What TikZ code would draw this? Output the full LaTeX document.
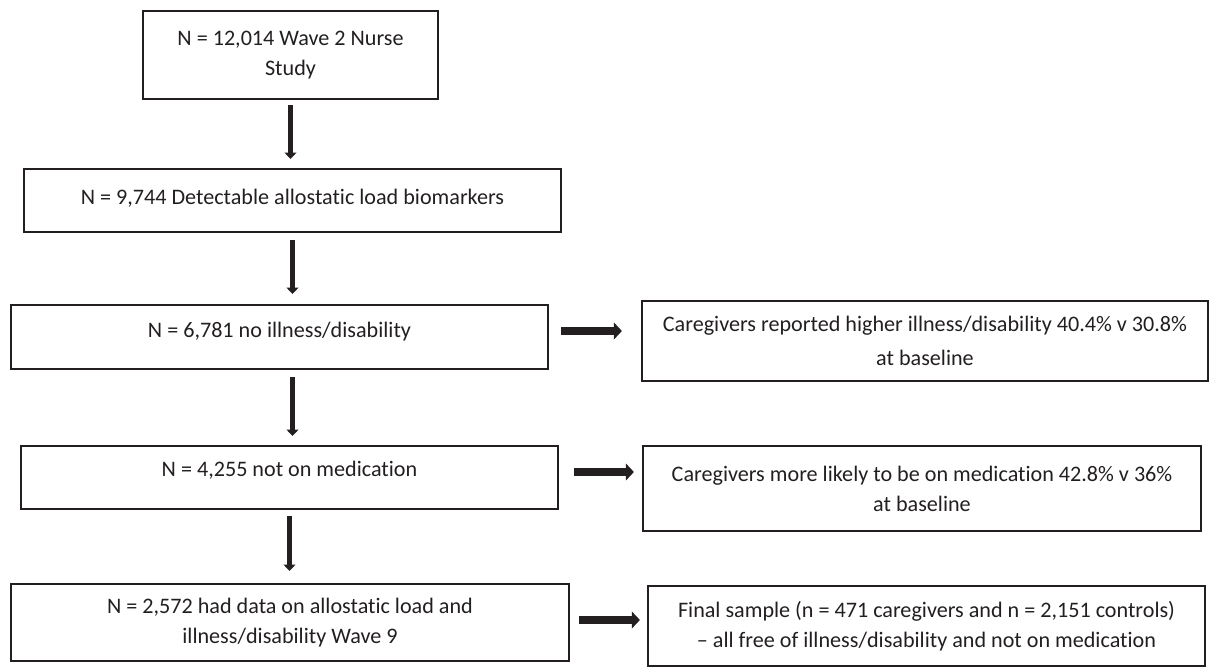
\documentclass[tikz,border=0pt]{standalone}
\usepackage{fontspec}
\setmainfont{Carlito}[Ligatures={TeX,NoCommon}]
\usepackage{xcolor}
\definecolor{ink}{HTML}{231F20}
\usetikzlibrary{arrows.meta}

\begin{document}
\begin{tikzpicture}[x=0.02cm,y=-0.02cm,
  box/.style={draw=\cLine,line width=1.3pt,align=center,text=\cText,inner sep=0pt,
    font=\fontsize{12.6}{17}\selectfont},
  lift/.style={text height=9pt,text depth=#1},
  downarrow/.style={draw=\cLine,line width=2.4pt,-{Triangle[length=3.6pt,width=6.8pt]},
    shorten <=0.14cm,shorten >=0.2cm},
  rightarrow/.style={draw=\cLine,line width=4.4pt,-{Triangle[length=4.6pt,width=9.5pt]}}]
\def\cLine{ink}
\def\cText{ink}
\useasboundingbox (0,0) rectangle (1211,669);
\node[box,minimum width=5.9cm,minimum height=1.76cm] (n1) at (290.5,55)
  {N = 12,014 Wave 2 Nurse\\Study};
\node[box,lift=4.8pt,minimum width=10.74cm,minimum height=1.26cm] (n2) at (292.5,200.5)
  {N = 9,744 Detectable allostatic load biomarkers};
\node[box,lift=9pt,minimum width=10.74cm,minimum height=1.28cm] (n3) at (279.5,337)
  {N = 6,781 no illness/disability};
\node[box,lift=10pt,minimum width=10.74cm,minimum height=1.26cm] (n4) at (289.5,477.5)
  {N = 4,255 not on medication};
\node[box,minimum width=11.16cm,minimum height=1.54cm] (n5) at (290,622.5)
  {N = 2,572 had data on allostatic load and\\illness/disability Wave 9};
\node[box,minimum width=11.32cm,minimum height=1.6cm] (c1) at (925,341)
  {Caregivers reported higher illness/disability 40.4\% v 30.8\%\\[2pt]at baseline};
\node[box,minimum width=11.16cm,minimum height=1.7cm] (c2) at (922,488.5)
  {Caregivers more likely to be on medication 42.8\% v 36\%\\at baseline};
\node[box,minimum width=11.14cm,minimum height=1.6cm] (c3) at (926.5,626)
  {Final sample (n = 471 caregivers and n = 2,151 controls)\\-- all free of illness/disability and not on medication};
\draw[downarrow,shorten <=0.1cm,shorten >=0.18cm] (n1.south) -- (n1.south |- n2.north);
\draw[downarrow] (n2.south) -- (n2.south |- n3.north);
\draw[downarrow,shorten >=0.18cm] (n3.south -| n2.south) -- (n2.south |- n4.north);
\draw[downarrow,shorten <=0.12cm,shorten >=0.24cm] (n4.south) -- (n4.south |- n5.north);
\draw[rightarrow,shorten <=0.24cm,shorten >=0.38cm] ([yshift=0.12cm]n3.east) -- ([yshift=0.12cm]n3.east -| c1.west);
\draw[rightarrow,shorten <=0.3cm,shorten >=0.16cm] ([yshift=0.11cm]n4.east) -- ([yshift=0.11cm]n4.east -| c2.west);
\draw[rightarrow,shorten <=0.18cm,shorten >=0.14cm] ([yshift=0.05cm]n5.east) -- ([yshift=0.05cm]n5.east -| c3.west);
\end{tikzpicture}
\end{document}
